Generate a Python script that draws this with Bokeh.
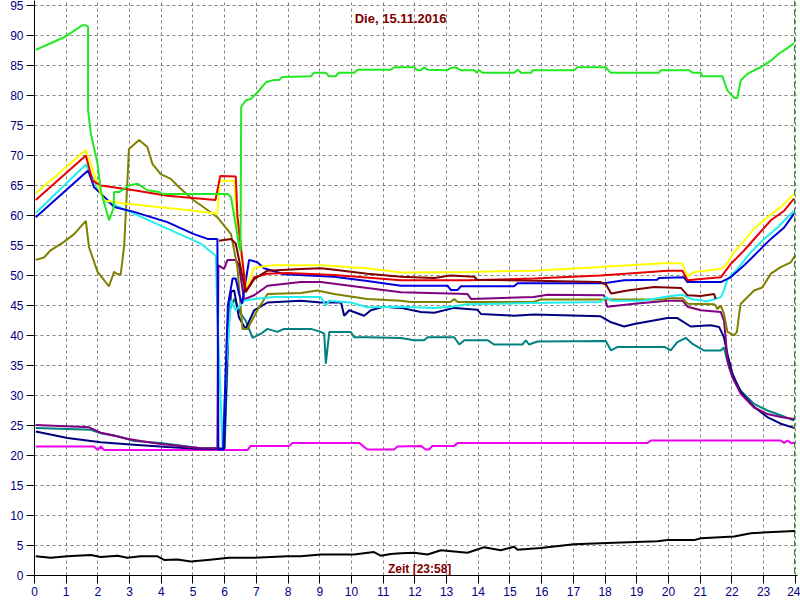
from math import pi
from bokeh.plotting import figure
from bokeh.models import Range1d, FixedTicker, Span, Label
from bokeh.embed import file_html
from bokeh.resources import INLINE

# ---------------- data (hour of day, temperature °C) ----------------
green_h = [0.04, 0.51, 0.93, 1.2, 1.51, 1.62, 1.69, 1.69, 1.78, 1.99, 2.09, 2.35, 2.5, 2.51, 2.67, 2.98, 3.25, 3.56, 3.93, 4.04, 6.1, 6.2, 6.3, 6.45, 6.5, 6.52,
           6.67, 6.82, 7.03, 7.3, 7.56, 7.72, 7.82, 8.72, 8.82, 9.19, 9.29, 9.5, 9.6, 10.09, 10.19, 11.24, 11.35, 11.98, 12.08, 12.19, 12.29, 12.4,
           13.03, 13.13, 13.29, 13.45, 13.87, 13.95, 14.03, 14.13, 15.13, 15.24, 15.35, 15.67, 15.71, 17.02, 17.13, 18.02, 18.17, 19.7, 19.76,
           20.65, 20.76, 21.02, 21.07, 21.7, 21.86, 22.07, 22.17, 22.28, 22.49, 22.7, 22.91, 23.23, 23.49, 23.75, 23.96]
green_t = [87.6, 88.7, 89.7, 90.6, 91.7, 91.7, 91.4, 77.5, 73.6, 68.6, 64.2, 59.2, 61.3, 63.9, 63.9, 65.0, 65.3, 64.2, 63.9, 63.6, 63.6, 63.0, 60.0, 55.0, 54.0, 78.1,
           79.2, 79.4, 80.5, 82.2, 82.6, 82.6, 83.1, 83.2, 83.8, 83.8, 83.2, 83.2, 83.8, 83.8, 84.3, 84.3, 84.7, 84.7, 84.2, 84.2, 84.7, 84.3,
           84.2, 84.6, 84.7, 84.2, 84.2, 83.8, 84.2, 83.8, 83.8, 84.3, 83.8, 83.8, 84.2, 84.2, 84.7, 84.7, 83.8, 83.8, 84.2,
           84.2, 83.8, 83.8, 83.2, 83.2, 80.8, 79.6, 79.6, 82.5, 83.6, 84.2, 84.7, 85.8, 87.0, 87.9, 88.7]

yellow_h = [0.04, 1.62, 1.72, 2.09, 2.2, 2.83, 5.03, 5.77, 5.85, 6.3, 6.4, 6.67, 6.93, 7.5, 9.03, 10.5, 11.56, 13.66, 15.75, 17.86, 19.97, 20.44, 20.6,
            20.81, 21.65, 21.81, 22.07, 22.39, 22.7, 23.12, 23.54, 23.96]
yellow_t = [63.7, 70.9, 69.4, 63.6, 62.5, 62.0, 60.8, 60.3, 65.8, 65.8, 58.0, 47.8, 51.3, 51.7, 51.7, 51.2, 50.5, 50.6, 50.8, 51.4, 52.1, 52.0, 49.8,
            50.6, 51.1, 51.7, 53.9, 55.8, 57.8, 59.7, 61.4, 63.6]

red_h = [0.04, 1.62, 1.83, 2.09, 3.14, 4.19, 5.71, 5.86, 6.35, 6.4, 6.67, 6.93, 7.35, 7.98, 9.45, 11.56, 13.66, 15.75, 17.86, 19.97, 20.44, 20.6,
         21.02, 21.65, 21.96, 22.39, 22.81, 23.23, 23.65, 23.96]
red_t = [62.6, 70.0, 65.8, 65.0, 64.2, 63.3, 62.6, 66.6, 66.5, 60.0, 47.3, 49.7, 50.3, 50.4, 50.1, 49.2, 49.2, 49.5, 50.0, 50.8, 50.8, 49.2,
         49.4, 49.7, 51.9, 54.2, 56.7, 59.2, 60.8, 62.8]

cyan_h = [0.04, 1.62, 2.2, 3.14, 4.19, 5.25, 5.72, 5.77, 5.93, 6.05, 6.2, 6.35, 6.61, 6.93, 7.56, 9.03, 9.19, 9.3, 9.98, 10.5, 11.56, 12.61, 13.13,
          13.66, 15.75, 17.86, 18.03, 18.19, 19.17, 19.97, 20.44, 20.7, 21.23, 21.65, 21.75, 21.86, 22.18, 22.6, 23.02, 23.44, 23.96]
cyan_t = [60.4, 68.5, 62.5, 60.3, 57.8, 55.3, 53.3, 43.3, 21.5, 35.0, 45.8, 44.2, 45.8, 46.1, 46.4, 46.4, 45.0, 45.8, 45.5, 44.7, 44.8, 44.6, 44.8,
          45.2, 45.4, 45.6, 46.4, 45.8, 45.8, 46.5, 46.8, 46.1, 45.7, 46.4, 47.5, 49.4, 51.1, 53.9, 56.1, 58.0, 60.8]

blue_h = [0.04, 1.69, 1.88, 2.3, 2.51, 3.14, 4.19, 5.03, 5.46, 5.77, 5.8, 5.95, 6.1, 6.25, 6.35, 6.45, 6.55, 6.77, 7.03, 7.24, 7.87, 9.45, 10.5,
          11.56, 13.03, 13.13, 13.35, 13.45, 15.13, 15.24, 17.97, 18.6, 19.65, 19.7, 20.49, 20.6, 21.65, 21.96, 22.39, 22.81, 23.23, 23.65, 23.96]
blue_t = [59.7, 67.5, 64.7, 62.6, 61.4, 60.6, 58.9, 56.9, 56.1, 56.1, 21.0, 21.0, 45.0, 49.5, 49.5, 47.0, 45.3, 52.6, 52.2, 51.2, 50.2, 49.8, 49.1,
          48.3, 48.3, 47.6, 47.6, 48.2, 48.2, 48.7, 48.7, 49.2, 49.3, 49.6, 49.7, 48.9, 48.9, 49.7, 51.7, 53.9, 56.1, 58.0, 60.3]

maroon_h = [5.82, 6.2, 6.35, 6.66, 6.93, 7.35, 8.4, 9.03, 9.4, 10.5, 11.56, 12.61, 13.13, 13.87, 13.97, 17.86, 18.03, 18.19, 18.71, 19.55, 20.4,
            20.6, 21.02, 21.44, 21.49]
maroon_t = [55.8, 56.1, 55.3, 47.2, 49.4, 50.8, 51.1, 51.2, 51.0, 50.3, 49.8, 49.6, 50.0, 49.8, 49.3, 48.9, 48.5, 47.0, 47.5, 48.1, 47.9,
            46.7, 46.6, 46.9, 46.1]

purple_h = [0.04, 1.72, 2.09, 2.36, 2.93, 3.35, 3.98, 4.72, 5.25, 5.77, 5.8, 5.98, 6.09, 6.35, 6.45, 6.61, 6.93, 7.35, 8.4, 9.03, 10.5, 11.56,
            13.66, 13.77, 15.75, 16.18, 17.97, 18.07, 18.92, 19.97, 20.44, 20.6, 21.02, 21.65, 21.75, 21.81, 21.86, 22.02, 22.28, 22.7, 23.12,
            23.54, 23.96]
purple_t = [25.1, 24.7, 23.8, 23.5, 22.8, 22.4, 21.9, 21.5, 21.2, 21.2, 51.7, 51.1, 52.6, 52.6, 51.7, 46.0, 46.7, 48.3, 48.9, 48.9, 47.9, 47.2,
            46.9, 46.1, 46.4, 46.8, 46.7, 44.8, 45.3, 45.8, 45.8, 44.8, 44.2, 43.9, 42.5, 39.2, 35.8, 33.0, 30.3, 28.0, 26.9,
            26.4, 26.1]

olive_h = [0.04, 0.3, 0.51, 0.93, 1.25, 1.62, 1.72, 1.99, 2.35, 2.51, 2.62, 2.72, 2.83, 2.98, 3.3, 3.56, 3.72, 3.98, 4.3, 4.56, 5.03, 5.25,
           5.77, 6.2, 6.4, 6.56, 6.72, 7.03, 7.35, 8.4, 8.93, 9.45, 10.5, 11.56, 11.87, 13.13, 13.24, 13.35, 15.75, 15.97, 19.87, 19.97, 20.44,
           20.6, 21.44, 21.49, 21.54, 21.65, 21.75, 21.86, 22.07, 22.16, 22.23, 22.28, 22.7, 22.96, 23.23, 23.54, 23.86, 23.98]
olive_t = [52.6, 53.0, 54.2, 55.6, 56.9, 59.1, 54.7, 50.6, 48.2, 50.6, 50.2, 50.2, 55.0, 71.1, 72.6, 71.4, 68.6, 66.9, 66.1, 64.7, 62.5, 61.7,
           59.7, 56.9, 51.4, 41.1, 41.1, 44.2, 46.9, 47.1, 47.5, 46.9, 46.1, 45.8, 45.6, 45.6, 46.1, 45.6, 45.6, 46.0, 46.0, 46.2, 46.2,
           45.3, 45.2, 45.0, 44.4, 45.0, 43.6, 40.6, 40.0, 40.6, 43.6, 45.3, 47.5, 48.0, 50.3, 51.4, 52.2, 53.2]

navy_h = [0.04, 1.04, 2.09, 3.14, 4.19, 5.25, 5.77, 5.98, 6.1, 6.2, 6.3, 6.45, 6.66, 6.93, 7.35, 8.4, 9.03, 9.67, 9.77, 9.93, 10.4, 10.61, 11.0,
          11.56, 12.19, 12.61, 13.24, 13.97, 14.08, 15.13, 15.75, 17.86, 18.19, 18.6, 18.92, 19.97, 20.28, 20.7, 21.33, 21.6, 21.75, 21.86,
          22.02, 22.28, 22.7, 23.12, 23.54, 23.96]
navy_t = [24.0, 22.9, 22.2, 21.8, 21.4, 21.1, 21.1, 21.1, 40.0, 47.3, 47.5, 43.0, 41.1, 44.2, 45.5, 45.8, 45.5, 45.5, 43.3, 44.2, 43.3, 44.2, 44.8,
          44.6, 43.9, 43.8, 44.6, 44.3, 43.6, 43.3, 43.5, 43.2, 42.2, 41.5, 41.9, 42.9, 42.9, 41.5, 41.7, 41.4, 39.7, 36.9,
          33.6, 30.6, 28.1, 26.4, 25.3, 24.6]

teal_h = [0.04, 1.78, 2.09, 2.62, 3.14, 3.98, 5.25, 5.77, 6.0, 6.14, 6.3, 6.51, 6.66, 6.88, 7.14, 7.35, 7.66, 7.87, 8.72, 9.03, 9.14, 9.19, 9.3,
          9.98, 10.08, 10.5, 11.56, 11.98, 12.29, 12.4, 13.24, 13.4, 13.56, 14.3, 14.5, 15.39, 15.5, 15.6, 15.87, 18.02, 18.19, 18.4, 19.87,
          20.07, 20.28, 20.55, 20.76, 21.12, 21.65, 21.75, 21.81, 21.91, 22.02, 22.28, 22.7, 23.12, 23.54, 23.96]
teal_t = [24.6, 24.3, 23.7, 23.2, 22.4, 22.1, 21.2, 21.2, 21.2, 44.0, 46.1, 43.6, 42.5, 39.6, 40.3, 41.1, 40.6, 41.1, 41.1, 40.6, 40.3, 35.3, 40.6,
          40.6, 39.7, 39.7, 39.6, 39.2, 39.2, 39.7, 39.7, 38.5, 39.2, 39.2, 38.5, 38.5, 39.2, 38.5, 39.0, 39.1, 37.5, 38.1, 38.1,
          37.5, 38.9, 39.6, 38.6, 37.5, 37.5, 38.0, 36.7, 34.7, 33.1, 30.8, 28.6, 27.5, 26.7, 25.8]

magenta_h = [0.04, 1.88, 1.99, 2.09, 2.2, 6.72, 6.82, 8.03, 8.14, 10.24, 10.5, 11.34, 11.45, 12.19, 12.34, 12.45, 12.55, 13.24, 13.36, 19.34,
             19.44, 23.54, 23.65, 23.75, 23.86, 23.98]
magenta_t = [21.5, 21.5, 20.9, 21.5, 20.9, 20.9, 21.6, 21.6, 22.1, 22.1, 21.0, 21.0, 21.5, 21.6, 21.0, 21.0, 21.6, 21.6, 22.1, 22.1,
             22.5, 22.5, 22.1, 22.5, 22.1, 22.1]

black_h = [0.04, 0.51, 1.04, 1.78, 2.09, 2.62, 2.93, 3.35, 3.88, 4.09, 4.51, 4.93, 5.46, 6.14, 6.93, 7.98, 8.4, 9.03, 10.08, 10.71, 10.92, 11.24,
           11.56, 11.98, 12.4, 12.82, 13.66, 14.18, 14.71, 15.13, 15.24, 15.97, 17.02, 18.07, 19.65, 19.97, 20.81, 21.02, 22.07, 22.6, 23.12, 23.99]
black_t = [3.2, 2.95, 3.2, 3.4, 3.1, 3.3, 2.95, 3.2, 3.2, 2.6, 2.65, 2.33, 2.6, 2.95, 2.95, 3.2, 3.2, 3.5, 3.5, 3.9, 3.3, 3.6,
           3.7, 3.8, 3.5, 4.2, 3.8, 4.7, 4.2, 4.8, 4.3, 4.6, 5.2, 5.4, 5.7, 5.9, 5.9, 6.2, 6.5, 7.05, 7.2, 7.4]

x_ticks = list(range(0, 25))
y_ticks = list(range(0, 100, 5))
title_text = "Die, 15.11.2016"
x_label_text = "Zeit [23:58]"
y_label_text = "°C"
now_hour = 23.98

# ---------------- figure ----------------
p = figure(width=800, height=600, output_backend="svg", toolbar_location=None,
           x_range=Range1d(0, 24.07), y_range=Range1d(0, 95.83))
p.min_border_left = 34
p.min_border_right = 3
p.min_border_top = 0
p.min_border_bottom = 25
p.outline_line_color = None
p.background_fill_color = "white"
p.border_fill_color = "white"

for ax, ticks, nminor in ((p.xaxis, x_ticks, 10), (p.yaxis, y_ticks, 5)):
    ax.ticker = FixedTicker(ticks=ticks, num_minor_ticks=nminor)
    ax.major_label_text_color = "#000080"
    ax.major_label_text_font = "Liberation Sans"
    ax.major_label_text_font_size = "12px"
    ax.axis_line_color = "black"
    ax.major_tick_line_color = "black"
    ax.minor_tick_line_color = "black"
    ax.major_tick_in = 0
    ax.major_tick_out = 8
    ax.minor_tick_in = 0
    ax.minor_tick_out = 4
    ax.major_label_standoff = 3

p.xgrid.ticker = FixedTicker(ticks=x_ticks)
p.ygrid.ticker = FixedTicker(ticks=y_ticks)
for g in (p.xgrid, p.ygrid):
    g.grid_line_color = "#808080"
    g.grid_line_dash = "3 3"
    g.grid_line_width = 1

series = [
    (magenta_h, magenta_t, "#ee00ee"),
    (black_h, black_t, "#000000"),
    (teal_h, teal_t, "#008080"),
    (navy_h, navy_t, "#000080"),
    (purple_h, purple_t, "#800080"),
    (olive_h, olive_t, "#808000"),
    (cyan_h, cyan_t, "#22eeee"),
    (blue_h, blue_t, "#0000dd"),
    (yellow_h, yellow_t, "#ffff00"),
    (red_h, red_t, "#e80000"),
    (maroon_h, maroon_t, "#800000"),
    (green_h, green_t, "#22e822"),
]
for xs, ys, c in series:
    p.line(xs, ys, line_color=c, line_width=2)

p.add_layout(Span(location=now_hour, dimension="height", line_color="#008000",
                  line_dash="6 3", line_width=1))

p.add_layout(Label(x=11.55, y=92.8, text=title_text, text_align="center", text_baseline="middle",
                   text_font="Liberation Sans", text_font_size="13px", text_font_style="bold",
                   text_color="#800000"))
p.add_layout(Label(x=12.15, y=1.0, text=x_label_text, text_align="center", text_baseline="middle",
                   text_font="Liberation Sans", text_font_size="12px", text_font_style="bold",
                   text_color="#800000"))
p.add_layout(Label(x=-0.75, y=48.7, text=y_label_text, angle=pi / 2, text_align="center",
                   text_baseline="middle", text_font="Liberation Sans", text_font_size="12px",
                   text_font_style="bold", text_color="#800000"))

open("out.html", "w").write(file_html(p, INLINE))
